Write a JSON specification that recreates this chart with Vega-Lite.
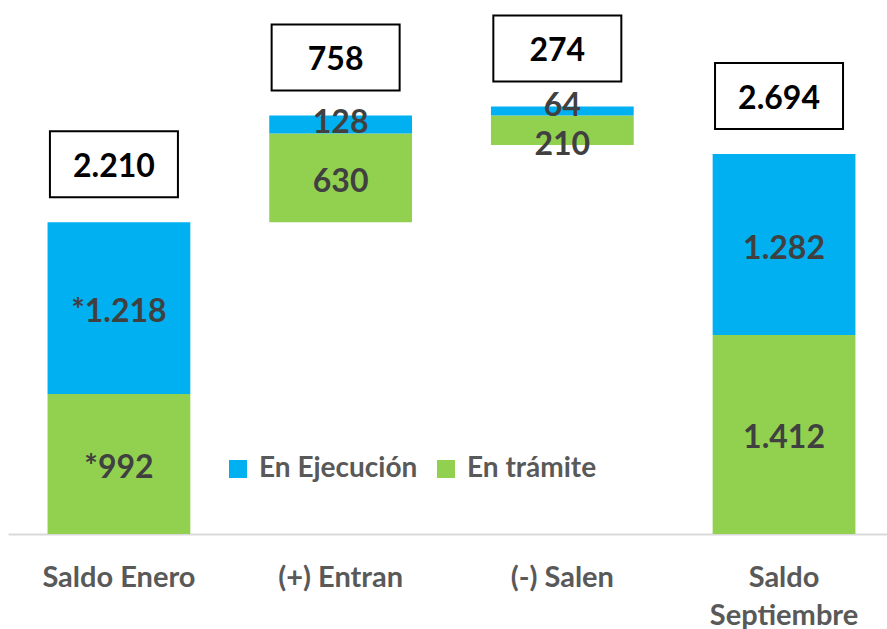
{
  "$schema": "https://vega.github.io/schema/vega-lite/v6.json",
  "width": 879,
  "height": 534,
  "autosize": {"type": "none"},
  "padding": {"left": 8, "top": 0, "right": 0, "bottom": 95},
  "background": "white",
  "config": {"view": {"stroke": null}, "font": "Lato"},
  "datasets": {
    "seg": [
      {"cat": "Saldo Enero", "serie": "En trámite", "y0": 0, "y1": 992, "label": "*992"},
      {"cat": "Saldo Enero", "serie": "En Ejecución", "y0": 992, "y1": 2210, "label": "*1.218"},
      {"cat": "(+) Entran", "serie": "En trámite", "y0": 2210, "y1": 2840, "label": "630"},
      {"cat": "(+) Entran", "serie": "En Ejecución", "y0": 2840, "y1": 2968, "label": "128"},
      {"cat": "(-) Salen", "serie": "En trámite", "y0": 2758, "y1": 2968, "label": "210"},
      {"cat": "(-) Salen", "serie": "En Ejecución", "y0": 2968, "y1": 3032, "label": "64"},
      {"cat": "Saldo Septiembre", "serie": "En trámite", "y0": 0, "y1": 1412, "label": "1.412"},
      {"cat": "Saldo Septiembre", "serie": "En Ejecución", "y0": 1412, "y1": 2694, "label": "1.282"}
    ],
    "tot": [
      {"cat": "Saldo Enero", "top": 2210, "total": "2.210"},
      {"cat": "(+) Entran", "top": 2968, "total": "758"},
      {"cat": "(-) Salen", "top": 3032, "total": "274"},
      {"cat": "Saldo Septiembre", "top": 2694, "total": "2.694"}
    ]
  },
  "encoding": {
    "x": {
      "field": "cat",
      "type": "nominal",
      "sort": ["Saldo Enero", "(+) Entran", "(-) Salen", "Saldo Septiembre"],
      "scale": {"paddingInner": 0.356, "paddingOuter": 0.1604, "align": 0.556},
      "axis": {
        "title": null,
        "ticks": false,
        "domainColor": "#D9D9D9",
        "domainWidth": 2,
        "labelFontSize": 29,
        "labelFont": "Lato",
        "labelFontWeight": "bold",
        "labelColor": "#595959",
        "labelPadding": 29,
        "labelAngle": 0,
        "labelBaseline": "top",
        "labelLineHeight": 38,
        "labelLimit": 0,
        "labelExpr": "datum.value == 'Saldo Septiembre' ? ['Saldo', 'Septiembre'] : datum.label"
      }
    }
  },
  "layer": [
    {
      "data": {"name": "seg"},
      "mark": {"type": "bar"},
      "encoding": {
        "y": {"field": "y0", "type": "quantitative", "scale": {"domain": [0, 3787], "nice": false, "zero": true}, "axis": null},
        "y2": {"field": "y1"},
        "color": {
          "field": "serie",
          "type": "nominal",
          "scale": {"domain": ["En Ejecución", "En trámite"], "range": ["#00B0F0", "#92D050"]},
          "legend": {
            "orient": "none",
            "legendX": 216,
            "legendY": 455,
            "direction": "horizontal",
            "title": null,
            "symbolType": "square",
            "symbolSize": 324,
            "symbolStrokeWidth": 0,
            "labelFontSize": 28,
            "labelFont": "Lato",
            "labelFontWeight": "bold",
            "labelColor": "#595959",
            "labelOffset": 7,
            "columnPadding": 14,
            "padding": 0,
            "labelLimit": 0
          }
        }
      }
    },
    {
      "data": {"name": "seg"},
      "transform": [{"fold": ["y0", "y1"], "as": ["k", "v"]}],
      "encoding": {
        "y": {"aggregate": "mean", "field": "v", "type": "quantitative", "scale": {"domain": [0, 3787], "nice": false, "zero": true}, "axis": null},
        "text": {"field": "label", "type": "nominal"}
      },
      "layer": [
        {
          "transform": [{"filter": "datum.label != '128' && datum.label != '64' && datum.label != '210'"}],
          "mark": {"type": "text", "font": "Lato", "fontWeight": "bold", "fontSize": 32, "color": "#404040", "baseline": "middle", "dy": 4}
        },
        {
          "transform": [{"filter": "datum.label == '128'"}],
          "mark": {"type": "text", "font": "Lato", "fontWeight": "bold", "fontSize": 32, "color": "#404040", "baseline": "middle", "dy": -2}
        },
        {
          "transform": [{"filter": "datum.label == '64'"}],
          "mark": {"type": "text", "font": "Lato", "fontWeight": "bold", "fontSize": 32, "color": "#404040", "baseline": "middle", "dy": -5}
        },
        {
          "transform": [{"filter": "datum.label == '210'"}],
          "mark": {"type": "text", "font": "Lato", "fontWeight": "bold", "fontSize": 32, "color": "#404040", "baseline": "middle", "dy": 15}
        }
      ]
    },
    {
      "data": {"name": "tot"},
      "mark": {
        "type": "point",
        "shape": "M-1,-0.515625L1,-0.515625L1,0.515625L-1,0.515625Z",
        "size": 16384,
        "filled": true,
        "fill": "white",
        "stroke": "black",
        "strokeWidth": 2,
        "opacity": 1,
        "xOffset": -5,
        "yOffset": -58
      },
      "encoding": {
        "y": {"field": "top", "type": "quantitative", "scale": {"domain": [0, 3787], "nice": false, "zero": true}, "axis": null}
      }
    },
    {
      "data": {"name": "tot"},
      "mark": {"type": "text", "font": "Lato", "fontWeight": "bold", "fontSize": 32, "color": "black", "baseline": "middle", "xOffset": -5, "yOffset": -58, "dy": 3},
      "encoding": {
        "y": {"field": "top", "type": "quantitative", "scale": {"domain": [0, 3787], "nice": false, "zero": true}, "axis": null},
        "text": {"field": "total", "type": "nominal"}
      }
    }
  ]
}
